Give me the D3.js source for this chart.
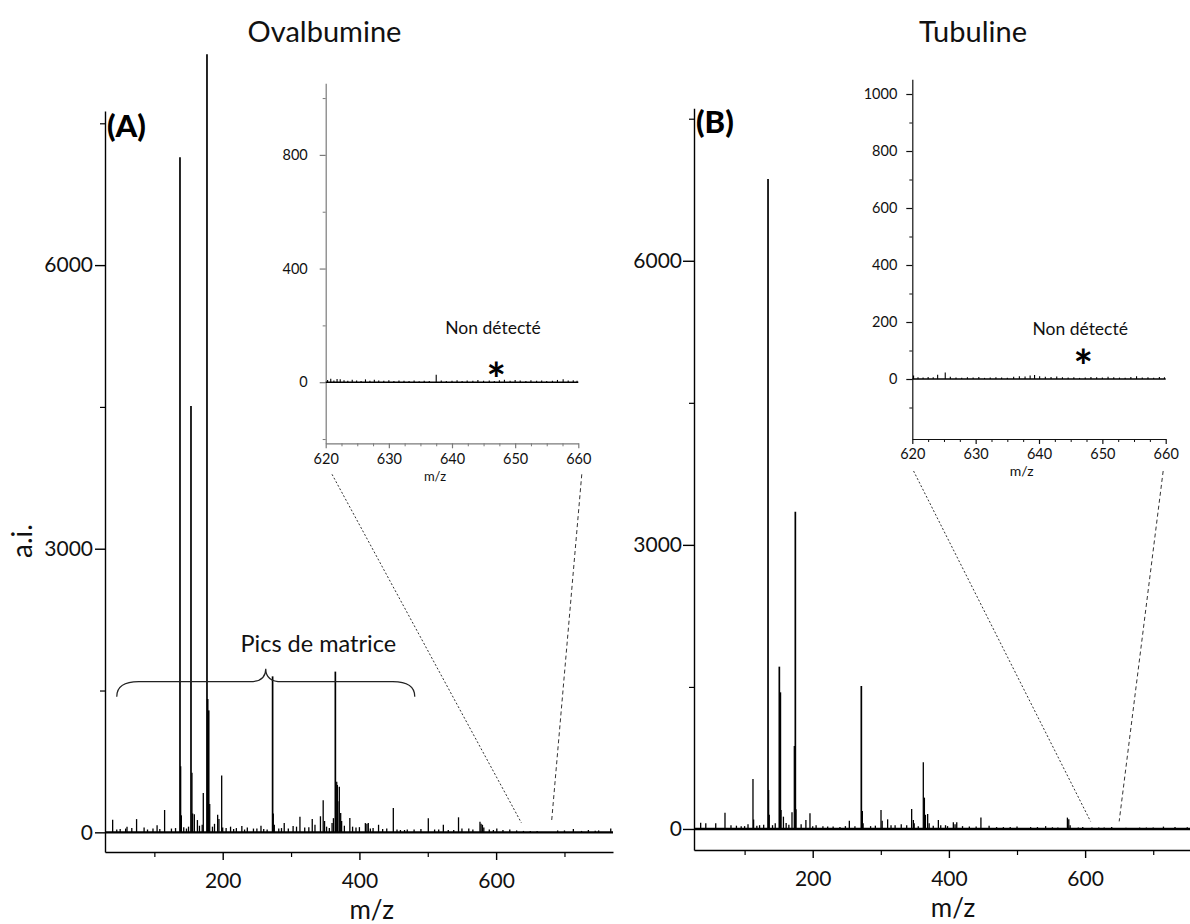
<!DOCTYPE html>
<html><head><meta charset="utf-8">
<script src="https://cdn.jsdelivr.net/npm/d3@7"></script>
<style>body{margin:0;background:#fff} svg{display:block} text{font-family:Lato, "Open Sans", sans-serif}</style>
</head><body>
<svg id="c" width="1190" height="924"></svg>
<script>
// ---------------- DATA ----------------
const titles = ["Ovalbumine", "Tubuline"];
const panelLabels = ["(A)", "(B)"];
const yAxisTitle = "a.i.";
const xAxisTitle = "m/z";
const matrixLabel = "Pics de matrice";
const notDetected = "Non détecté";
const starLabel = "*";

// Main axis ticks
const mainYTicks = [0, 3000, 6000];
const mainYMinor = [1500, 4500, 7500];
const mainXTicks = [200, 400, 600];
const mainXMinor = [100, 300, 500, 700];
// Inset axis ticks
const insetXTicks = [620, 630, 640, 650, 660];
const insetXMinor = [622.5, 625, 627.5, 632.5, 635, 637.5, 642.5, 645, 647.5, 652.5, 655, 657.5];
const insetATicks = [0, 400, 800];
const insetAMinor = [-200, 200, 600, 1000];
const insetBTicks = [0, 200, 400, 600, 800, 1000];
const insetBMinor = [-100, 100, 300, 500, 700, 900];

// Panel A spectrum (Ovalbumine): m/z and intensity
const mzA = [137.5, 138.5, 139.5, 153.6, 155.0, 156.0, 177.0, 178.0, 179.5, 181.0,
             198.5, 171.6, 163.0, 158.5, 192.6, 194.5, 273.0, 274.0, 275.5, 364.8,
             366.8, 367.7, 368.5, 370.6, 372.6, 374.0, 362.0, 360.0, 115.0, 39.0,
             74.0, 60.0, 85.0, 104.0, 58.0, 45.0, 98.0, 211.5, 228.0, 236.0,
             256.0, 282.0, 290.0, 303.0, 313.0, 331.0, 343.0, 347.0, 349.0, 386.0,
             390.0, 408.7, 411.0, 413.0, 428.0, 449.6, 470.0, 500.8, 522.8, 545.0,
             550.0, 576.4, 578.0, 580.0, 582.0, 601.0, 620.0, 713.0, 735.0, 767.7,
             690.0, 750.0, 660.0, 640.0, 480.0, 440.0, 320.0, 245.0, 265.0, 220.0,
             125.0, 150.0, 170.0, 185.0, 200.0, 352.0, 395.0, 420.0, 460.0, 510.0,
             530.0, 560.0, 590.0, 610.0, 630.0, 700.0, 725.0, 50.0, 67.0, 90.0,
             108.0, 131.0, 143.0, 147.0, 166.0, 188.0, 205.0, 216.0, 232.0, 250.0,
             260.0, 286.0, 296.0, 308.0, 326.0, 335.0, 356.0, 378.0, 400.0, 416.0,
             434.0, 455.0, 466.0, 490.0, 516.0, 538.0, 566.0, 596.0, 650.0, 745.0];
const intA = [7140, 700, 180, 4510, 630, 200, 8230, 1410, 1290, 300,
              600, 415, 130, 190, 186, 140, 1650, 200, 80, 1700,
              536, 500, 330, 483, 204, 120, 150, 100, 236, 132,
              140, 60, 50, 75, 40, 30, 40, 60, 66, 50,
              70, 40, 98, 66, 165, 140, 170, 340, 120, 152,
              60, 98, 90, 98, 80, 257, 30, 148, 80, 159,
              40, 112, 90, 80, 50, 40, 30, 35, 25, 40,
              20, 20, 15, 15, 30, 40, 50, 40, 30, 45,
              40, 60, 80, 60, 50, 60, 50, 45, 25, 30,
              25, 40, 30, 25, 20, 20, 15, 35, 45, 30,
              35, 45, 55, 40, 70, 90, 45, 35, 30, 40,
              35, 45, 40, 60, 55, 80, 45, 70, 55, 40,
              35, 30, 25, 35, 30, 25, 30, 25, 15, 18];

// Panel B spectrum (Tubuline)
const mzB = [134.4, 135.3, 136.2, 151.0, 152.5, 153.5, 157.0, 161.0, 174.5, 173.0,
             175.5, 169.6, 190.0, 196.0, 112.3, 113.2, 71.2, 35.5, 43.0, 57.6,
             95.0, 105.0, 122.0, 253.8, 271.4, 272.9, 274.0, 300.3, 302.0, 310.0,
             321.0, 330.0, 338.0, 345.3, 347.8, 349.0, 362.4, 364.0, 365.5, 368.8,
             371.0, 384.5, 388.0, 406.5, 409.0, 411.5, 447.0, 459.0, 480.0, 500.0,
             520.0, 542.0, 574.0, 576.0, 578.0, 596.5, 620.0, 639.0, 680.0, 715.0,
             732.0, 750.0, 215.0, 230.0, 240.0, 285.0, 420.0, 430.0, 560.0, 610.0,
             660.0, 700.0, 80.0, 88.0, 128.0, 145.0, 183.0, 205.0, 262.0, 395.0,
             100.0, 118.0, 141.0, 165.0, 200.0, 222.0, 248.0, 292.0, 315.0, 355.0,
             377.0, 398.0, 440.0, 470.0, 490.0, 530.0, 552.0, 590.0, 628.0, 690.0];
const intB = [6864, 412, 150, 1714, 1443, 200, 130, 64, 3351, 876,
              208, 176, 95, 165, 528, 100, 172, 67, 60, 60,
              30, 50, 40, 88, 1510, 190, 60, 200, 88, 102,
              40, 50, 40, 211, 95, 60, 704, 331, 150, 158,
              60, 95, 40, 70, 50, 70, 120, 35, 20, 25,
              20, 30, 120, 102, 40, 20, 15, 20, 15, 25,
              20, 18, 30, 25, 20, 30, 30, 25, 15, 15,
              12, 15, 40, 35, 45, 60, 50, 40, 30, 40,
              30, 35, 40, 45, 30, 25, 30, 35, 40, 30,
              35, 30, 25, 20, 20, 20, 18, 15, 15, 15];

// Insets (zoom 620-660)
const insetMzA = [620.3, 620.8, 621.3, 621.8, 622.3, 622.9, 623.5, 624.2, 624.9, 625.6,
                  626.3, 627.0, 627.7, 628.4, 629.2, 630.0, 630.8, 631.6, 632.4, 633.2,
                  634.0, 634.8, 635.6, 636.4, 637.5, 638.3, 639.1, 640.0, 640.8, 641.6,
                  642.4, 643.3, 644.1, 645.0, 645.9, 646.7, 647.5, 648.3, 649.2, 650.0,
                  650.8, 651.7, 652.5, 653.4, 654.2, 655.0, 655.9, 656.7, 657.6, 658.4,
                  659.2, 659.8];
const insetIntA = [8, 12, 6, 11, 10, 7, 5, 9, 6, 4,
                   10, 5, 9, 6, 5, 7, 4, 6, 5, 4,
                   6, 3, 5, 4, 26, 6, 4, 5, 7, 4,
                   6, 5, 8, 5, 6, 4, 7, 9, 5, 8,
                   6, 4, 7, 5, 6, 4, 5, 8, 10, 6,
                   7, 5];
const insetMzB = [620.2, 620.9, 621.7, 622.5, 623.3, 624.0, 625.2, 626.0, 626.9, 627.8,
                  628.7, 629.6, 630.5, 631.4, 632.3, 633.2, 634.1, 635.0, 636.0, 636.9,
                  637.8, 638.6, 639.3, 640.1, 641.0, 641.9, 642.8, 643.7, 644.6, 645.5,
                  646.4, 647.3, 648.2, 649.1, 650.0, 650.9, 651.8, 652.7, 653.6, 654.5,
                  655.4, 656.3, 657.2, 658.1, 659.0, 659.8];
const insetIntB = [12, 6, 5, 7, 6, 15, 23, 8, 5, 4,
                   6, 5, 7, 4, 5, 6, 5, 4, 8, 10,
                   9, 12, 14, 10, 8, 7, 9, 6, 5, 6,
                   4, 5, 7, 6, 5, 8, 6, 5, 4, 7,
                   10, 5, 6, 4, 7, 6];

// Zoom connector ends (inset m/z at top, main m/z at bottom)
const linkInsetA = [621, 660.55], linkMainA = [637, 681];
const linkInsetB = [620.2, 659.6], linkMainB = [608, 650];
const starMz = 647;
const braceMz = [45, 263, 481];
const braceLevel = 1594;

// ---------------- DRAW ----------------
const svg = d3.select("#c");
const FONT = "Lato, 'Open Sans', sans-serif";

const panels = [
  { title: titles[0], label: panelLabels[0], titleX: 324.5, labelX: 107, labelY: 137,
    mz: mzA, inten: intA, insetMz: insetMzA, insetInt: insetIntA,
    x: d3.scaleLinear().domain([27.8, 771]).range([105, 613]),
    y: d3.scaleLinear().domain([-208, 7630]).range([852, 111]),
    ix: d3.scaleLinear().domain([620, 660]).range([325.7, 578.3]),
    iy: d3.scaleLinear().domain([-215, 1052]).range([443.3, 83.3]),
    iyTicks: insetATicks, iyMinor: insetAMinor, insetColor: "#7a7a7a",
    iyPad: 12, yPad: 2, ySize: 10, xTitleX: 371.7, xTitleY: 919,
    linkInset: linkInsetA, linkMain: linkMainA, linkMainLevel: 100, linkTopOff: 31,
    ndOff: 48, starBase: 14, imzX: 435, imzY: 481, imzSize: 13 },
  { title: titles[1], label: panelLabels[1], titleX: 973, labelX: 696, labelY: 133,
    mz: mzB, inten: intB, insetMz: insetMzB, insetInt: insetIntB,
    x: d3.scaleLinear().domain([25.7, 754]).range([694, 1190]),
    y: d3.scaleLinear().domain([-222, 7610]).range([850, 108.3]),
    ix: d3.scaleLinear().domain([620, 660]).range([912.3, 1165.7]),
    iy: d3.scaleLinear().domain([-210.5, 1051.6]).range([439, 79.3]),
    iyTicks: insetBTicks, iyMinor: insetBMinor, insetColor: "#111",
    iyPad: 9, yPad: 1, ySize: 11, xTitleX: 953, xTitleY: 917,
    linkInset: linkInsetB, linkMain: linkMainB, linkMainLevel: 80, linkTopOff: 32,
    ndOff: 44, starBase: 4, imzX: 1021.7, imzY: 476, imzSize: 14 }
];

function styleAxis(g, fs, color, width) {
  g.attr("font-family", FONT).attr("font-size", fs);
  g.selectAll(".domain").attr("stroke", color).attr("stroke-width", width);
  g.selectAll(".tick line").attr("stroke", color).attr("stroke-width", width);
  g.selectAll(".tick text").attr("fill", "#111");
}

panels.forEach((p, k) => {
  const g = svg.append("g");
  const { x, y, ix, iy } = p;

  // Titles
  g.append("text").attr("x", p.titleX).attr("y", 42).attr("text-anchor", "middle")
    .attr("font-size", 29).attr("fill", "#111").text(p.title);
  g.append("text").attr("x", p.labelX).attr("y", p.labelY).attr("font-weight", 900)
    .attr("font-size", 31).attr("fill", "#000").text(p.label);

  // Zoom connectors
  const topY = iy.range()[0] + p.linkTopOff;
  const botY = y(p.linkMainLevel);
  [0, 1].forEach(j => {
    g.append("line").attr("x1", ix(p.linkInset[j])).attr("y1", topY)
      .attr("x2", x(p.linkMain[j])).attr("y2", botY)
      .attr("stroke", "#333").attr("stroke-width", 1)
      .attr("stroke-dasharray", j === 0 ? "2,2" : "4,3");
  });

  // Main axes
  const x0 = x.range()[0], yb = y.range()[0];
  const ay = g.append("g").attr("transform", `translate(${x0},0)`)
    .call(d3.axisLeft(y).tickValues(mainYTicks).tickSize(p.ySize).tickPadding(p.yPad)
      .tickSizeOuter(0).tickFormat(d3.format("d")));
  styleAxis(ay, 21, "#000", 1.4);
  const ayM = g.append("g").attr("transform", `translate(${x0},0)`)
    .call(d3.axisLeft(y).tickValues(mainYMinor).tickSize(5).tickFormat(""));
  ayM.select(".domain").remove();
  styleAxis(ayM, 10, "#000", 1.2);

  const ax = g.append("g").attr("transform", `translate(0,${yb})`)
    .call(d3.axisBottom(x).tickValues(mainXTicks).tickSize(8).tickPadding(13)
      .tickSizeOuter(0).tickFormat(d3.format("d")));
  styleAxis(ax, 21, "#000", 1.4);
  const axM = g.append("g").attr("transform", `translate(0,${yb})`)
    .call(d3.axisBottom(x).tickValues(mainXMinor).tickSize(5).tickFormat(""));
  axM.select(".domain").remove();
  styleAxis(axM, 10, "#000", 1.2);

  g.append("text").attr("x", p.xTitleX).attr("y", p.xTitleY).attr("text-anchor", "middle")
    .attr("font-size", 26).attr("fill", "#111").text(xAxisTitle);

  // Main spectrum
  g.append("line").attr("x1", x.range()[0]).attr("x2", x.range()[1])
    .attr("y1", y(0)).attr("y2", y(0)).attr("stroke", "#000").attr("stroke-width", 2.4);
  g.append("g").selectAll("line").data(p.mz.map((m, i) => [m, p.inten[i]])).join("line")
    .attr("x1", d => x(d[0])).attr("x2", d => x(d[0]))
    .attr("y1", y(0)).attr("y2", d => y(d[1]))
    .attr("stroke", "#000").attr("stroke-width", d => d[1] > 1000 ? 1.7 : 1.3);

  // Inset axes
  const ix0 = ix.range()[0], iyb = iy.range()[0];
  const iay = g.append("g").attr("transform", `translate(${ix0},0)`)
    .call(d3.axisLeft(iy).tickValues(p.iyTicks).tickSize(6).tickPadding(p.iyPad)
      .tickSizeOuter(0).tickFormat(d3.format("d")));
  styleAxis(iay, 14.5, p.insetColor, 1.2);
  const iayM = g.append("g").attr("transform", `translate(${ix0},0)`)
    .call(d3.axisLeft(iy).tickValues(p.iyMinor).tickSize(3).tickFormat(""));
  iayM.select(".domain").remove();
  styleAxis(iayM, 10, p.insetColor, 1);
  const iax = g.append("g").attr("transform", `translate(0,${iyb})`)
    .call(d3.axisBottom(ix).tickValues(insetXTicks).tickSize(5).tickPadding(5)
      .tickSizeOuter(0).tickFormat(d3.format("d")));
  styleAxis(iax, 14.5, p.insetColor, 1.2);
  const iaxM = g.append("g").attr("transform", `translate(0,${iyb})`)
    .call(d3.axisBottom(ix).tickValues(insetXMinor).tickSize(3).tickFormat(""));
  iaxM.select(".domain").remove();
  styleAxis(iaxM, 10, p.insetColor, 1);
  g.append("text").attr("x", p.imzX).attr("y", p.imzY).attr("text-anchor", "middle")
    .attr("font-size", p.imzSize).attr("fill", "#111").text(xAxisTitle);

  // Inset spectrum
  g.append("line").attr("x1", ix.range()[0]).attr("x2", ix.range()[1])
    .attr("y1", iy(0)).attr("y2", iy(0)).attr("stroke", "#000").attr("stroke-width", 1.5);
  g.append("g").selectAll("line").data(p.insetMz.map((m, i) => [m, p.insetInt[i]])).join("line")
    .attr("x1", d => ix(d[0])).attr("x2", d => ix(d[0]))
    .attr("y1", iy(0)).attr("y2", d => iy(d[1]))
    .attr("stroke", "#000").attr("stroke-width", 1.1);

  g.append("text").attr("x", ix(646.5)).attr("y", iy(0) - p.ndOff).attr("text-anchor", "middle")
    .attr("font-size", 17.5).attr("fill", "#111").text(notDetected);
  g.append("text").attr("x", ix(starMz)).attr("y", iy(0) + p.starBase).attr("text-anchor", "middle")
    .attr("font-size", 46).attr("font-weight", 700).attr("fill", "#000").text(starLabel);

  if (k === 0) {
    // y axis title
    g.append("text").attr("transform", "translate(32,541) rotate(-90)").attr("text-anchor", "middle")
      .attr("font-size", 28).attr("fill", "#111").text(yAxisTitle);
    // brace
    const bx0 = x(braceMz[0]), bxm = x(braceMz[1]), bx1 = x(braceMz[2]), by = y(braceLevel);
    g.append("path")
      .attr("d", `M${bx0},${by + 15} Q${bx0},${by} ${bx0 + 22},${by} L${bxm - 16},${by} Q${bxm},${by} ${bxm},${by - 13} Q${bxm},${by} ${bxm + 16},${by} L${bx1 - 22},${by} Q${bx1},${by} ${bx1},${by + 15}`)
      .attr("fill", "none").attr("stroke", "#222").attr("stroke-width", 1.2);
    g.append("text").attr("x", 318.3).attr("y", 652).attr("text-anchor", "middle")
      .attr("font-size", 23.5).attr("fill", "#111").text(matrixLabel);
  }
});
</script>
</body></html>
